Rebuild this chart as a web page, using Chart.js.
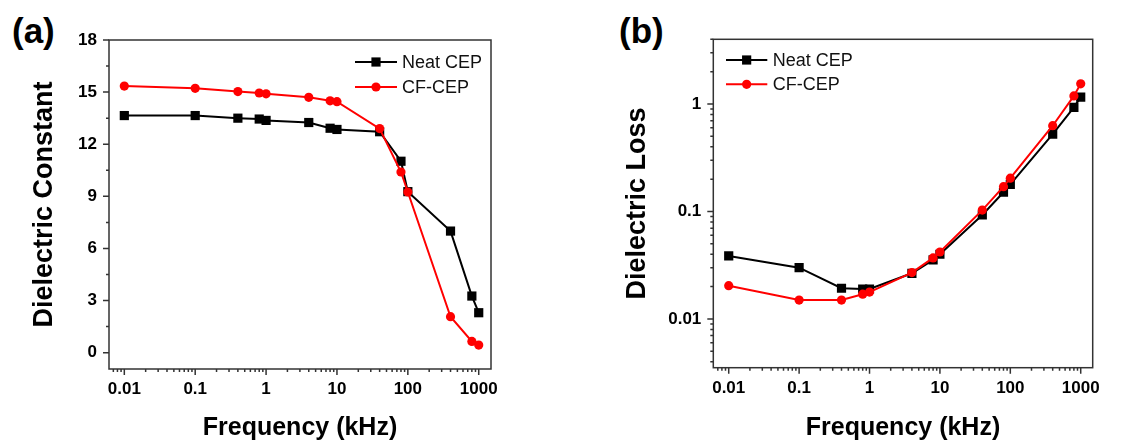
<!DOCTYPE html>
<html>
<head>
<meta charset="utf-8">
<script src="https://cdn.jsdelivr.net/npm/chart.js@4.4.0/dist/chart.umd.min.js"></script>
<style>
  body { margin: 0; background: #fff; width: 1142px; height: 443px; overflow: hidden; position: relative;
         font-family: "Liberation Sans", Arial, sans-serif; }
  .panel { position: absolute; top: 0; width: 571px; height: 443px; }
  .tag { position: absolute; font-weight: bold; font-size: 35px; line-height: 1; color: #000; }
</style>
</head>
<body>
<div class="tag" style="left:12px;top:13px">(a)</div>
<div class="tag" style="left:619px;top:13px">(b)</div>
<div class="panel" style="left:0"><canvas id="epsChart"></canvas></div>
<div class="panel" style="left:571px"><canvas id="lossChart"></canvas></div>

<script>
// frequency points (kHz)
const freq = [0.01, 0.1, 0.4, 0.8, 1, 4, 8, 10, 40, 80, 100, 400, 800, 1000];

// (a) dielectric constant
const neatConstant = [13.65, 13.65, 13.5, 13.45, 13.37, 13.25, 12.92, 12.85, 12.72, 11.02, 9.27, 7.0, 3.26, 2.3];
const cfConstant = [15.35, 15.22, 15.03, 14.95, 14.9, 14.7, 14.5, 14.45, 12.9, 10.4, 9.25, 2.07, 0.65, 0.44];

// (b) dielectric loss
const neatLoss = [0.0386, 0.030, 0.0193, 0.019, 0.019, 0.0266, 0.0354, 0.040, 0.0927, 0.151, 0.179, 0.525, 0.93, 1.16];
const cfLoss = [0.0204, 0.015, 0.015, 0.017, 0.0178, 0.027, 0.037, 0.042, 0.103, 0.170, 0.204, 0.628, 1.19, 1.54];

// tick labels
const freqTicks = [0.01, 0.1, 1, 10, 100, 1000];
const constantTicks = [0, 3, 6, 9, 12, 15, 18];
const lossTicks = [0.01, 0.1, 1];

const FONT = '"Liberation Sans", Arial, sans-serif';

function toPoints(xs, ys) {
  return xs.map((x, i) => ({ x: x, y: ys[i] }));
}

function minorValues(scale, majors) {
  const out = [];
  if (scale.type === 'logarithmic') {
    const e0 = Math.floor(Math.log10(scale.min)), e1 = Math.ceil(Math.log10(scale.max));
    for (let e = e0; e <= e1; e++) {
      for (let m = 2; m <= 9; m++) {
        const v = m * Math.pow(10, e);
        if (v >= scale.min && v <= scale.max) out.push(v);
      }
    }
  } else {
    const step = majors[1] - majors[0];
    for (let v = majors[0] - step / 2; v <= scale.max; v += step) {
      if (v >= scale.min) out.push(v);
    }
  }
  return out;
}

// box around plot, outward tick marks and a legend drawn inside the plot
const framePlugin = {
  id: 'frame',
  afterDraw(chart, args, opts) {
    const { ctx, chartArea: a, scales: { x, y } } = chart;
    ctx.save();
    ctx.strokeStyle = '#333';
    ctx.lineWidth = 1.5;
    ctx.strokeRect(a.left, a.top, a.right - a.left, a.bottom - a.top);

    ctx.beginPath();
    const xMaj = x.ticks.map(t => t.value);
    const yMaj = y.ticks.map(t => t.value);
    xMaj.forEach(v => { const p = x.getPixelForValue(v); ctx.moveTo(p, a.bottom); ctx.lineTo(p, a.bottom + 6); });
    minorValues(x, xMaj).forEach(v => { const p = x.getPixelForValue(v); ctx.moveTo(p, a.bottom); ctx.lineTo(p, a.bottom + 3); });
    yMaj.forEach(v => { const p = y.getPixelForValue(v); ctx.moveTo(a.left, p); ctx.lineTo(a.left - 6, p); });
    minorValues(y, yMaj).forEach(v => { const p = y.getPixelForValue(v); ctx.moveTo(a.left, p); ctx.lineTo(a.left - 3, p); });
    ctx.stroke();

    // legend
    ctx.font = '18px ' + FONT;
    ctx.textBaseline = 'middle';
    ctx.textAlign = 'left';
    chart.data.datasets.forEach((ds, i) => {
      const ly = opts.rows[i];
      ctx.strokeStyle = ds.borderColor;
      ctx.lineWidth = 2;
      ctx.beginPath();
      ctx.moveTo(opts.x0, ly);
      ctx.lineTo(opts.x1, ly);
      ctx.stroke();
      const mx = (opts.x0 + opts.x1) / 2;
      ctx.fillStyle = ds.pointBackgroundColor;
      if (ds.pointStyle === 'rect') {
        const s = ds.pointRadius * Math.SQRT1_2;
        ctx.fillRect(mx - s, ly - s, 2 * s, 2 * s);
      } else {
        ctx.beginPath();
        ctx.arc(mx, ly, ds.pointRadius, 0, Math.PI * 2);
        ctx.fill();
      }
      ctx.fillStyle = '#111';
      ctx.fillText(ds.label, opts.textX, ly + 1);
    });
    ctx.restore();
  }
};

function makeChart(id, cfg) {
  const ctx = document.getElementById(id).getContext('2d');
  return new Chart(ctx, {
    type: 'line',
    data: {
      datasets: [{
        label: 'Neat CEP',
        data: toPoints(freq, cfg.neat),
        borderColor: '#000',
        backgroundColor: '#000',
        pointBackgroundColor: '#000',
        pointBorderColor: '#000',
        pointStyle: 'rect',
        pointRadius: 6.5,
        pointBorderWidth: 0,
        borderWidth: 2,
        tension: 0,
        order: 2
      }, {
        label: 'CF-CEP',
        data: toPoints(freq, cfg.cf),
        borderColor: '#ff0000',
        backgroundColor: '#ff0000',
        pointBackgroundColor: '#ff0000',
        pointBorderColor: '#ff0000',
        pointStyle: 'circle',
        pointRadius: 4.6,
        pointBorderWidth: 0,
        borderWidth: 2,
        tension: 0,
        order: 1
      }]
    },
    options: {
      responsive: true,
      maintainAspectRatio: false,
      animation: false,
      events: [],
      layout: { padding: cfg.padding },
      plugins: {
        legend: { display: false },
        tooltip: { enabled: false },
        frame: cfg.legend
      },
      scales: {
        x: {
          type: 'logarithmic',
          min: cfg.xMin,
          max: cfg.xMax,
          afterBuildTicks: s => { s.ticks = freqTicks.map(v => ({ value: v })); },
          afterFit: s => { s.height = cfg.xHeight; },
          grid: { display: false, drawTicks: false },
          border: { display: false },
          ticks: {
            autoSkip: false,
            maxRotation: 0,
            padding: 10,
            color: '#000',
            font: { family: FONT, size: 17, weight: 'bold' },
            callback: v => String(v)
          },
          title: {
            display: true,
            text: 'Frequency (kHz)',
            color: '#000',
            font: { family: FONT, size: 25, weight: 'bold', lineHeight: 1 },
            padding: { top: 0, bottom: 2.5 }
          }
        },
        y: {
          type: cfg.yType,
          min: cfg.yMin,
          max: cfg.yMax,
          afterBuildTicks: s => { s.ticks = cfg.yTicks.map(v => ({ value: v })); },
          afterFit: s => { s.width = cfg.yWidth; },
          grid: { display: false, drawTicks: false },
          border: { display: false },
          ticks: {
            autoSkip: false,
            padding: 12,
            color: '#000',
            font: { family: FONT, size: 17, weight: 'bold' },
            callback: v => String(v)
          },
          title: {
            display: true,
            text: cfg.yTitle,
            color: '#000',
            font: { family: FONT, size: 27, weight: 'bold', lineHeight: 1 },
            padding: { top: cfg.yTitlePad, bottom: 0 }
          }
        }
      }
    },
    plugins: [framePlugin]
  });
}

makeChart('epsChart', {
  neat: neatConstant,
  cf: cfConstant,
  yType: 'linear',
  yMin: -0.94,
  yMax: 18,
  yTicks: constantTicks,
  yTitle: 'Dielectric Constant',
  yTitlePad: 31.5,
  xMin: 0.00608,
  xMax: 1490,
  yWidth: 109,
  xHeight: 74,
  padding: { left: 0, top: 40, right: 80, bottom: 0 },
  legend: { x0: 355, x1: 397, textX: 402, rows: [62, 87] }
});

makeChart('lossChart', {
  neat: neatLoss,
  cf: cfLoss,
  yType: 'logarithmic',
  yMin: 0.00352,
  yMax: 4.0,
  yTicks: lossTicks,
  yTitle: 'Dielectric Loss',
  yTitlePad: 53,
  xMin: 0.00604,
  xMax: 1480,
  yWidth: 142.3,
  xHeight: 75.3,
  padding: { left: 0, top: 39.3, right: 49.3, bottom: 0 },
  legend: { x0: 155, x1: 196.3, textX: 201.7, rows: [60, 84.3] }
});
</script>
</body>
</html>
